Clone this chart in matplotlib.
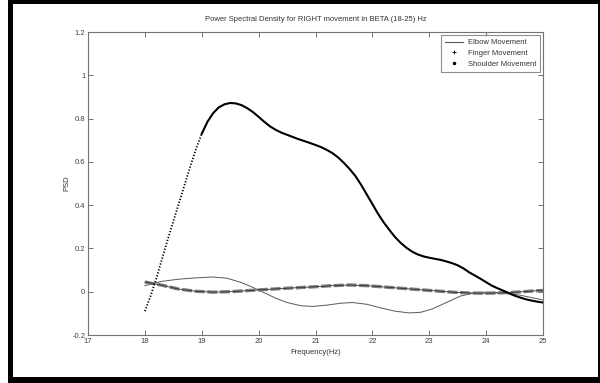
import matplotlib
matplotlib.use("Agg")
import matplotlib.pyplot as plt
from matplotlib.lines import Line2D
from matplotlib.patches import Rectangle

plt.rcParams["font.family"] = ["Liberation Sans", "DejaVu Sans"]

# ---------------------------------------------------------------------------
# Data
# ---------------------------------------------------------------------------
shoulder_f = [18.0, 18.1, 18.2, 18.3, 18.4, 18.5, 18.6, 18.7, 18.8, 18.9,
              19.0, 19.1, 19.2, 19.3, 19.4, 19.5, 19.6, 19.7, 19.8, 19.9,
              20.0, 20.1, 20.2, 20.3, 20.4, 20.55, 20.7, 20.85, 21.0, 21.1,
              21.2, 21.3, 21.4, 21.5, 21.6, 21.7, 21.8, 21.9, 22.0, 22.1,
              22.2, 22.3, 22.4, 22.5, 22.6, 22.7, 22.8, 22.9, 23.0, 23.1,
              23.2, 23.3, 23.4, 23.5, 23.6, 23.7, 23.8, 23.9, 24.0, 24.1,
              24.2, 24.3, 24.4, 24.5, 24.6, 24.7, 24.8, 24.9, 25.0]
shoulder_psd = [-0.09, -0.02, 0.06, 0.15, 0.24, 0.325, 0.41, 0.495, 0.58, 0.66,
                0.73, 0.785, 0.825, 0.852, 0.866, 0.872, 0.870, 0.862, 0.848, 0.83,
                0.808, 0.785, 0.764, 0.748, 0.735, 0.72, 0.705, 0.692, 0.678, 0.668,
                0.655, 0.64, 0.62, 0.595, 0.567, 0.535, 0.495, 0.45, 0.405, 0.36,
                0.32, 0.285, 0.252, 0.225, 0.203, 0.185, 0.172, 0.163, 0.157, 0.152,
                0.147, 0.14, 0.132, 0.122, 0.108, 0.09, 0.075, 0.06, 0.044, 0.028,
                0.016, 0.005, -0.007, -0.018, -0.027, -0.035, -0.041, -0.046, -0.05]

elbow_f = [18.0, 18.3, 18.6, 18.9, 19.2, 19.45, 19.7, 19.9, 20.1, 20.3,
           20.5, 20.75, 20.95, 21.2, 21.45, 21.65, 21.9, 22.15, 22.4, 22.65,
           22.85, 23.05, 23.3, 23.55, 23.8, 24.0, 24.3, 24.6, 24.85, 25.0]
elbow_psd = [0.028, 0.048, 0.058, 0.064, 0.068, 0.062, 0.042, 0.02, -0.005, -0.03,
             -0.05, -0.065, -0.068, -0.062, -0.053, -0.05, -0.058, -0.075, -0.09, -0.098,
             -0.095, -0.08, -0.05, -0.02, -0.005, -0.002, -0.006, -0.016, -0.03, -0.038]

finger_f = [18.0, 18.3, 18.6, 18.9, 19.2, 19.5, 19.8, 20.1, 20.5, 21.0,
            21.3, 21.6, 21.9, 22.2, 22.5, 22.8, 23.1, 23.4, 23.7, 24.0,
            24.3, 24.6, 24.8, 25.0]
finger_psd = [0.045, 0.03, 0.012, 0.002, -0.002, 0.0, 0.005, 0.01, 0.016, 0.023,
              0.028, 0.031, 0.028, 0.022, 0.016, 0.01, 0.004, -0.002, -0.006, -0.007,
              -0.005, -0.001, 0.003, 0.006]

x_ticks = [17, 18, 19, 20, 21, 22, 23, 24, 25]
y_ticks = [-0.2, 0, 0.2, 0.4, 0.6, 0.8, 1, 1.2]
y_tick_labels = ["-0.2", "0", "0.2", "0.4", "0.6", "0.8", "1", "1.2"]

# ---------------------------------------------------------------------------
# Figure
# ---------------------------------------------------------------------------
W, H = 600, 383
fig = plt.figure(figsize=(W / 100, H / 100), dpi=100)
ax = fig.add_axes([88 / W, 1 - 335 / H, (543 - 88) / W, (335 - 32) / H])

ax.plot(elbow_f, elbow_psd, color="0.35", linewidth=0.7)
ax.plot(finger_f, finger_psd, color="0.5", linewidth=2.4, linestyle=(0, (3, 0.8)))
ax.plot(finger_f, finger_psd, color="0.2", linewidth=0.6)
# steep rising part looks dotted in the original, the rest solid
n_dot = 11
ax.plot(shoulder_f[:n_dot], shoulder_psd[:n_dot], color="black", linewidth=1.3,
        linestyle=(0, (0.7, 1.0)))
ax.plot(shoulder_f[n_dot - 1:], shoulder_psd[n_dot - 1:], color="black", linewidth=1.5)

ax.set_xlim(17, 25)
ax.set_ylim(-0.2, 1.2)
ax.set_xticks(x_ticks)
ax.set_yticks(y_ticks)
ax.set_yticklabels(y_tick_labels)
ax.tick_params(direction="in", length=3.5, width=0.6, color="0.35",
               labelsize=5.5, labelcolor="0.25", top=True, right=True, pad=2)
for sp in ax.spines.values():
    sp.set_color("0.45")
    sp.set_linewidth(0.8)

ax.set_title("Power Spectral Density for RIGHT movement in BETA (18-25) Hz",
             fontsize=5.5, color="0.2", pad=8)
ax.set_xlabel("Frequency(Hz)", fontsize=5.5, color="0.2", labelpad=3)
ax.set_ylabel("PSD", fontsize=5.5, color="0.2", labelpad=1)

handles = [
    Line2D([], [], color="0.35", linewidth=0.8),
    Line2D([], [], color="black", marker="+", linestyle="none", markersize=3, markeredgewidth=0.6),
    Line2D([], [], color="black", marker=".", linestyle="none", markersize=3),
]
leg = ax.legend(handles, ["Elbow Movement", "Finger Movement", "Shoulder Movement"],
                loc="upper right", bbox_to_anchor=(0.994, 0.99), fontsize=5.5,
                frameon=True, fancybox=False, handlelength=2.4, handletextpad=0.6,
                borderpad=0.5, labelspacing=0.45, borderaxespad=0)
leg.get_frame().set_edgecolor("0.45")
leg.get_frame().set_linewidth(0.8)
for t in leg.get_texts():
    t.set_color("0.2")

# black frame around the screenshot
def px_rect(x0, y0, x1, y1):
    return Rectangle((x0 / W, 1 - y1 / H), (x1 - x0) / W, (y1 - y0) / H,
                     transform=fig.transFigure, facecolor="black", edgecolor="none")

for r in [px_rect(8, 0, 13, H), px_rect(8, 0, W, 3.5), px_rect(598, 0, W, H),
          px_rect(8, 377, W, H)]:
    fig.patches.append(r)

fig.savefig("out.png", dpi=100, facecolor="white")
